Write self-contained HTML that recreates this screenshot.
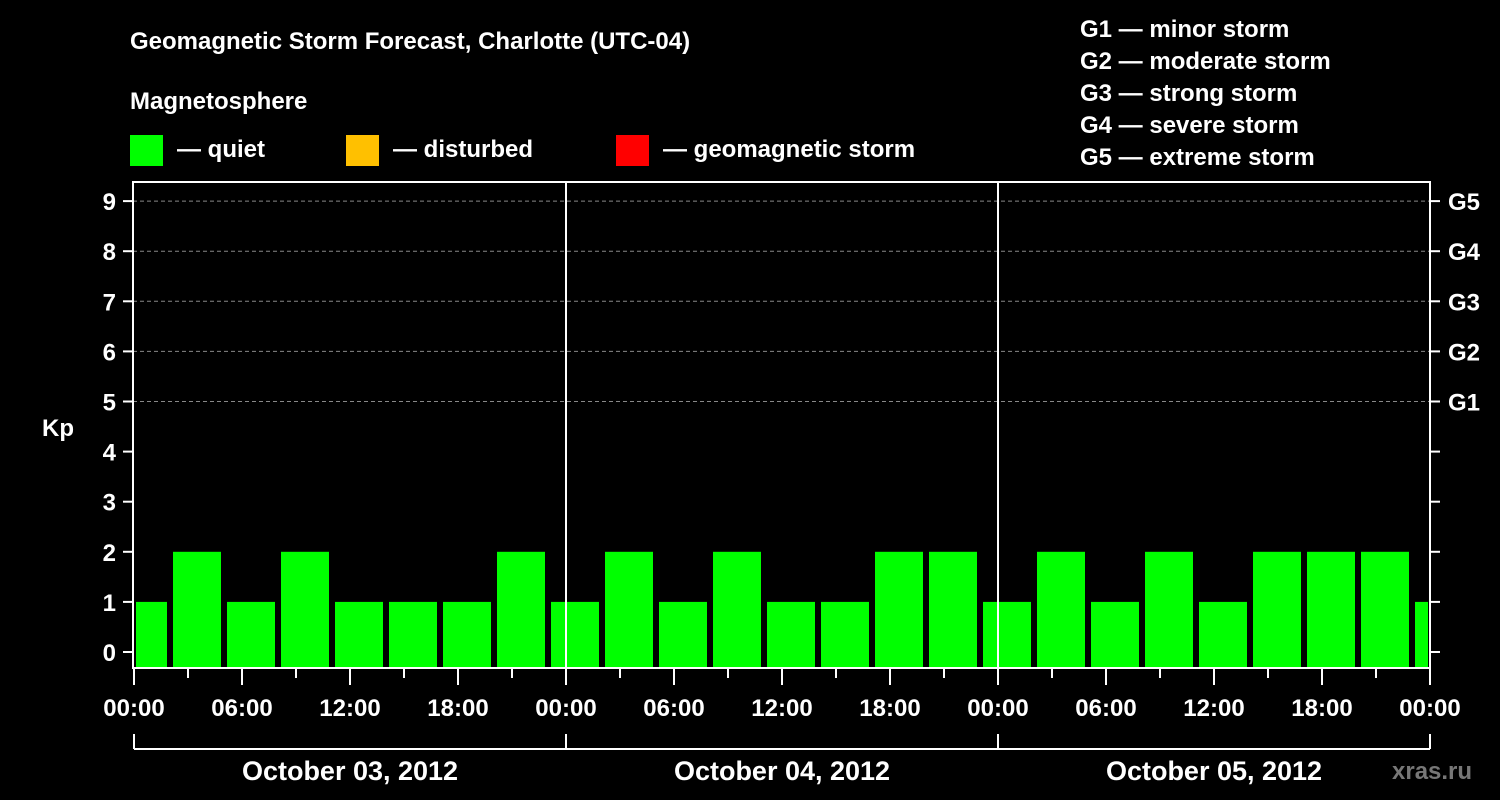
<!DOCTYPE html>
<html><head><meta charset="utf-8"><style>
body{margin:0;background:#000;width:1500px;height:800px;overflow:hidden}
svg{display:block}
text{font-family:"Liberation Sans",sans-serif;font-weight:bold;fill:#fff}
</style></head><body>
<svg id="c" width="1500" height="800">
<text x="130" y="49" font-size="24">Geomagnetic Storm Forecast, Charlotte (UTC-04)</text>
<text x="130" y="109" font-size="24">Magnetosphere</text>
<g><rect x="130" y="135" width="33" height="31" fill="#00ff00"/><text x="177" y="157" font-size="24">— quiet</text></g>
<g><rect x="346" y="135" width="33" height="31" fill="#ffc000"/><text x="393" y="157" font-size="24">— disturbed</text></g>
<g><rect x="616" y="135" width="33" height="31" fill="#ff0000"/><text x="663" y="157" font-size="24">— geomagnetic storm</text></g>
<g font-size="24">
<text x="1080" y="37">G1 — minor storm</text>
<text x="1080" y="69">G2 — moderate storm</text>
<text x="1080" y="101">G3 — strong storm</text>
<text x="1080" y="133">G4 — severe storm</text>
<text x="1080" y="165">G5 — extreme storm</text>
</g>
<text x="42" y="436" font-size="24">Kp</text>
<text x="1392" y="779" font-size="24" fill="#777" style="fill:#777">xras.ru</text>
<g id="plot"></g>
</svg>
<script>
const days=["October 03, 2012","October 04, 2012","October 05, 2012"];
const barStartHours=[-1,2,5,8,11,14,17,20,23,26,29,32,35,38,41,44,47,50,53,56,59,62,65,68,71];
const kpValues=[1,2,1,2,1,1,1,2,1,2,1,2,1,1,2,2,1,2,1,2,1,2,2,2,1];
const yTicks=[0,1,2,3,4,5,6,7,8,9];
const gLabels=["G1","G2","G3","G4","G5"];
const hourLabels=["00:00","06:00","12:00","18:00"];
const NS="http://www.w3.org/2000/svg";
const L=133,R=1430,T=182,B=668,H0=0,H1=72;
const x=h=>L+1+(h-H0)/(H1-H0)*(R-L-1);
const y=v=>652-v*50.1;
const g=document.getElementById('plot');
function mk(t,a,p){const e=document.createElementNS(NS,t);for(const k in a)e.setAttribute(k,a[k]);(p||g).appendChild(e);return e;}
// grid
for(let v=5;v<=9;v++){const l=mk('line',{x1:L,x2:R,y1:y(v),y2:y(v),stroke:'#888','stroke-dasharray':'4,3','stroke-width':1});

}
// bars
barStartHours.forEach((h,i)=>{let a=Math.max(x(h),L+1)+3,b=Math.min(x(h+3),R)-3;if(x(h)<L)a=L+3;if(x(h+3)>R)b=R-2;
const r=mk('rect',{x:a,y:y(kpValues[i]),width:b-a,height:B-y(kpValues[i]),fill:kpValues[i]>=5?'#ff0000':kpValues[i]>=4?'#ffc000':'#00ff00'});

});
// day separators
for(let d=1;d<days.length;d++){const l=mk('line',{x1:x(d*24),x2:x(d*24),y1:T,y2:B,stroke:'#fff','stroke-width':2});

}
// frame
const f=mk('rect',{x:L,y:T,width:R-L,height:B-T,fill:'none',stroke:'#fff','stroke-width':2});


// y ticks
yTicks.forEach(v=>{mk('line',{x1:L-10,x2:L,y1:y(v),y2:y(v),stroke:'#fff','stroke-width':2});mk('line',{x1:R,x2:R+10,y1:y(v),y2:y(v),stroke:'#fff','stroke-width':2});
const t=mk('text',{x:116,y:y(v)+9,'font-size':24,'text-anchor':'end'});t.textContent=v;

});
gLabels.forEach((s,i)=>{const t=mk('text',{x:1448,y:y(5+i)+9,'font-size':24});t.textContent=s;

});
// x ticks
for(let h=0;h<=72;h+=3){const long=h%6==0;mk('line',{x1:x(h),x2:x(h),y1:B,y2:B+(long?17:10),stroke:'#fff','stroke-width':2});
if(long){const t=mk('text',{x:x(h),y:716,'font-size':24,'text-anchor':'middle'});t.textContent=hourLabels[(h/6)%4];

}}
// day bracket
mk('line',{x1:x(0),x2:x(72),y1:749,y2:749,stroke:'#fff','stroke-width':2});
for(let d=0;d<=days.length;d++)mk('line',{x1:x(d*24),x2:x(d*24),y1:734,y2:749,stroke:'#fff','stroke-width':2});
days.forEach((s,d)=>{const t=mk('text',{x:x(d*24+12),y:780,'font-size':27,'text-anchor':'middle'});t.textContent=s;

});
</script>
</body></html>
